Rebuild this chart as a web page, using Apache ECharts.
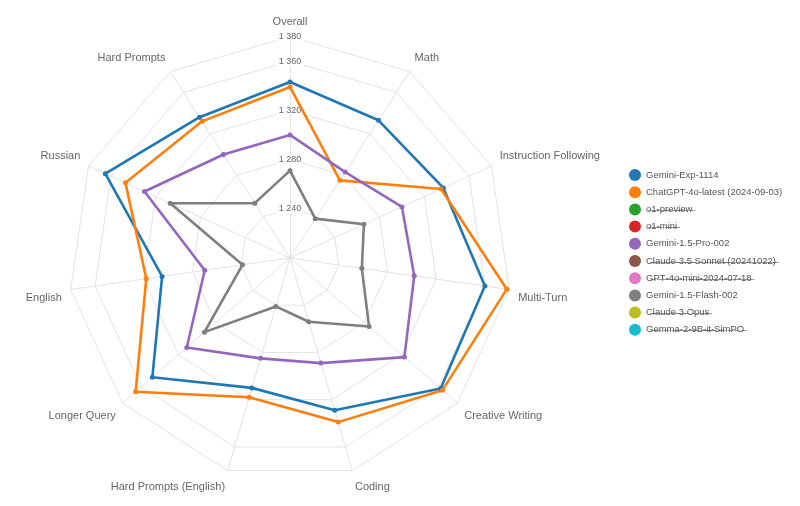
<!DOCTYPE html>
<html>
<head>
<meta charset="utf-8">
<script src="https://cdn.jsdelivr.net/npm/echarts@6/dist/echarts.min.js"></script>
<style>
html,body{margin:0;padding:0;background:#fff;}
#chart{width:800px;height:506px;}
</style>
</head>
<body>
<div id="chart"></div>
<script>
// Categories in clockwise order starting at the top
var categories = ['Overall', 'Math', 'Instruction Following', 'Multi-Turn', 'Creative Writing', 'Coding',
  'Hard Prompts (English)', 'Longer Query', 'English', 'Russian', 'Hard Prompts'];

var modelNames = ['Gemini-Exp-1114', 'ChatGPT-4o-latest (2024-09-03)', 'o1-preview', 'o1-mini',
  'Gemini-1.5-Pro-002', 'Claude 3.5 Sonnet (20241022)', 'GPT-4o-mini-2024-07-18',
  'Gemini-1.5-Flash-002', 'Claude 3 Opus', 'Gemma-2-9B-it-SimPO'];
var modelColors = ['#1f77b4', '#ff7f0e', '#2ca02c', '#d62728', '#9467bd', '#8c564b', '#e377c2',
  '#7f7f7f', '#bcbd22', '#17becf'];
var hiddenModels = ['o1-preview', 'o1-mini', 'Claude 3.5 Sonnet (20241022)', 'GPT-4o-mini-2024-07-18',
  'Claude 3 Opus', 'Gemma-2-9B-it-SimPO'];

var geminiExp1114 =   [1343, 1333, 1337, 1360, 1362, 1329, 1310, 1348, 1305, 1365, 1336];
var chatgpt4oLatest = [1339, 1275, 1335, 1378, 1364, 1339, 1318, 1366, 1318, 1347, 1332];
var gemini15Pro002 =  [1300, 1283, 1300, 1302, 1323, 1289, 1285, 1311, 1270, 1330, 1300];
var gemini15Flash002 =[1271, 1238, 1266, 1259, 1285, 1254, 1241, 1292, 1239, 1307, 1253];

var seriesValues = {
  'Gemini-Exp-1114': geminiExp1114,
  'ChatGPT-4o-latest (2024-09-03)': chatgpt4oLatest,
  'Gemini-1.5-Pro-002': gemini15Pro002,
  'Gemini-1.5-Flash-002': gemini15Flash002
};

var axisMin = 1200;
var axisMax = 1380;
var tickLabels = [1240, 1280, 1320, 1360, 1380];

// ECharts radar lays indicators out counter-clockwise; reorder so they run clockwise.
var order = [0];
for (var i = categories.length - 1; i >= 1; i--) order.push(i);

function fmt(v) {
  var s = String(v);
  return s.length > 3 ? s.slice(0, s.length - 3) + ' ' + s.slice(-3) : s;
}
function strike(s) {
  return s.split('').map(function (c) { return c + '\u0336'; }).join('');
}

var indicators = order.map(function (idx, k) {
  var ind = { name: categories[idx], min: axisMin, max: axisMax };
  if (k === 0) {
    ind.axisLabel = {
      show: true,
      margin: 0,
      align: 'center',
      verticalAlign: 'middle',
      color: '#666',
      fontSize: 9,
      fontFamily: 'Liberation Sans, Arial, sans-serif',
      backgroundColor: '#fff',
      padding: [0, 2],
      formatter: function (v) {
        return tickLabels.indexOf(Math.round(v)) >= 0 ? fmt(Math.round(v)) : '';
      }
    };
  }
  return ind;
});

// split line colors: only rings at the labelled ticks are drawn
var ringColors = [];
var nSplit = (axisMax - axisMin) / 20;
for (var r = 0; r <= nSplit; r++) {
  var v = axisMin + r * 20;
  ringColors.push(tickLabels.indexOf(v) >= 0 ? '#e3e3e3' : 'rgba(0,0,0,0)');
}

var series = modelNames.map(function (name, i) {
  var vals = seriesValues[name];
  return {
    type: 'radar',
    name: name,
    symbol: 'circle',
    symbolSize: 5,
    itemStyle: { color: modelColors[i] },
    lineStyle: { color: modelColors[i], width: 2.6 },
    data: vals ? [{ name: name, value: order.map(function (idx) { return vals[idx]; }) }] : []
  };
});

var nameFont = { color: '#666', fontSize: 11, fontFamily: 'Liberation Sans, Arial, sans-serif' };

var chart = echarts.init(document.getElementById('chart'), null, { renderer: 'canvas' });
chart.setOption({
  animation: false,
  backgroundColor: '#fff',
  textStyle: { fontFamily: 'Liberation Sans, Arial, sans-serif' },
  legend: {
    orient: 'vertical',
    left: 624,
    top: 164,
    icon: 'circle',
    itemWidth: 12,
    itemHeight: 12,
    itemGap: 5.2,
    textStyle: { color: '#555', fontSize: 9.5, fontFamily: 'Liberation Sans, Arial, sans-serif' },
    formatter: function (name) {
      return hiddenModels.indexOf(name) >= 0 ? strike(name) : name;
    },
    data: modelNames
  },
  radar: {
    center: [290, 258],
    radius: 221.5,
    startAngle: 90,
    shape: 'polygon',
    splitNumber: nSplit,
    indicator: indicators,
    axisName: {
      color: '#666', fontSize: 11, fontFamily: 'Liberation Sans, Arial, sans-serif',
      formatter: function (name) {
        var idx = categories.indexOf(name);
        if (idx <= 0) return name;
        var c = Math.cos(idx * 2 * Math.PI / categories.length);
        return c > 0 ? '{u|' + name + '}' : '{d|' + name + '}';
      },
      rich: {
        u: Object.assign({ padding: [0, 0, 12, 0] }, nameFont),
        d: Object.assign({ padding: [15, 0, 0, 0] }, nameFont)
      }
    },
    nameGap: 9,
    axisLine: { lineStyle: { color: '#e3e3e3', width: 1 } },
    splitLine: { lineStyle: { color: ringColors, width: 1 } },
    splitArea: { show: false },
    axisTick: { show: false },
    axisLabel: { show: false }
  },
  series: series
});
</script>
</body>
</html>
